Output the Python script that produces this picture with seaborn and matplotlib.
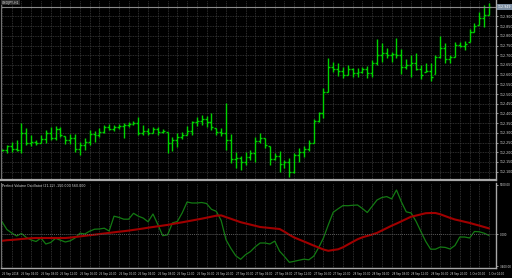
import numpy as np
import pandas as pd
import matplotlib
matplotlib.use("Agg")
import matplotlib.pyplot as plt
import matplotlib.transforms as mtransforms
import seaborn as sns

# ---------------- data ----------------
symbol_title = "USDJPY,H1"
indicator_title = "Perfect Volume Oscillator (21,22) -150.000 560.000"

bar_high = [112.216, 112.237, 112.253, 112.263, 112.351, 112.325, 112.289, 112.263, 112.289, 112.314,
            112.330, 112.335, 112.330, 112.283, 112.294, 112.294, 112.253, 112.273, 112.314, 112.309,
            112.325, 112.340, 112.345, 112.340, 112.345, 112.351, 112.356, 112.361, 112.381, 112.340,
            112.325, 112.330, 112.330, 112.320, 112.304, 112.278, 112.299, 112.304, 112.335, 112.361,
            112.381, 112.392, 112.387, 112.402, 112.325, 112.325, 112.454, 112.294, 112.201, 112.180,
            112.201, 112.211, 112.278, 112.299, 112.273, 112.232, 112.196, 112.206, 112.160, 112.170,
            112.196, 112.222, 112.232, 112.263, 112.371, 112.407, 112.531, 112.686, 112.665, 112.660,
            112.639, 112.649, 112.634, 112.634, 112.639, 112.644, 112.675, 112.784, 112.763, 112.737,
            112.717, 112.789, 112.732, 112.680, 112.701, 112.711, 112.649, 112.660, 112.660, 112.701,
            112.799, 112.763, 112.701, 112.768, 112.768, 112.773, 112.835, 112.866, 112.923, 112.959,
            112.969]
bar_low = [112.206, 112.196, 112.201, 112.206, 112.196, 112.237, 112.232, 112.237, 112.247, 112.247,
           112.263, 112.263, 112.278, 112.242, 112.242, 112.201, 112.186, 112.211, 112.237, 112.253,
           112.278, 112.299, 112.314, 112.309, 112.320, 112.273, 112.330, 112.340, 112.289, 112.289,
           112.289, 112.299, 112.289, 112.299, 112.196, 112.206, 112.227, 112.268, 112.289, 112.289,
           112.335, 112.340, 112.330, 112.314, 112.289, 112.283, 112.211, 112.144, 112.119, 112.108,
           112.134, 112.160, 112.149, 112.247, 112.222, 112.134, 112.160, 112.098, 112.119, 112.072,
           112.093, 112.149, 112.175, 112.206, 112.247, 112.356, 112.376, 112.510, 112.613, 112.593,
           112.582, 112.598, 112.588, 112.588, 112.608, 112.582, 112.588, 112.649, 112.665, 112.686,
           112.665, 112.686, 112.603, 112.629, 112.588, 112.624, 112.577, 112.613, 112.567, 112.603,
           112.686, 112.660, 112.660, 112.691, 112.742, 112.727, 112.768, 112.820, 112.856, 112.845,
           112.907]
bar_open = [112.210, 112.212, 112.230, 112.215, 112.210, 112.300, 112.250, 112.255, 112.250, 112.270,
            112.300, 112.275, 112.320, 112.283, 112.265, 112.275, 112.215, 112.240, 112.255, 112.295,
            112.290, 112.305, 112.330, 112.320, 112.330, 112.335, 112.340, 112.345, 112.350, 112.300,
            112.310, 112.300, 112.320, 112.305, 112.304, 112.250, 112.265, 112.280, 112.290, 112.310,
            112.355, 112.360, 112.370, 112.355, 112.325, 112.305, 112.300, 112.265, 112.165, 112.170,
            112.150, 112.175, 112.195, 112.260, 112.273, 112.232, 112.165, 112.180, 112.140, 112.150,
            112.100, 112.185, 112.200, 112.215, 112.250, 112.360, 112.400, 112.510, 112.640, 112.630,
            112.620, 112.600, 112.630, 112.610, 112.615, 112.630, 112.610, 112.660, 112.700, 112.710,
            112.700, 112.705, 112.700, 112.640, 112.650, 112.660, 112.630, 112.615, 112.620, 112.603,
            112.690, 112.740, 112.680, 112.691, 112.755, 112.750, 112.768, 112.820, 112.856, 112.890,
            112.910]
bar_close = [112.212, 112.230, 112.215, 112.210, 112.300, 112.250, 112.255, 112.250, 112.270, 112.300,
             112.275, 112.320, 112.290, 112.265, 112.275, 112.215, 112.240, 112.255, 112.295, 112.290,
             112.305, 112.330, 112.320, 112.330, 112.335, 112.340, 112.345, 112.350, 112.300, 112.310,
             112.300, 112.320, 112.305, 112.310, 112.250, 112.265, 112.280, 112.290, 112.310, 112.355,
             112.360, 112.370, 112.355, 112.330, 112.305, 112.300, 112.265, 112.165, 112.170, 112.150,
             112.175, 112.195, 112.260, 112.275, 112.240, 112.165, 112.180, 112.140, 112.150, 112.100,
             112.185, 112.200, 112.215, 112.250, 112.360, 112.400, 112.510, 112.640, 112.630, 112.620,
             112.600, 112.630, 112.610, 112.615, 112.630, 112.610, 112.660, 112.700, 112.710, 112.700,
             112.705, 112.700, 112.640, 112.650, 112.660, 112.630, 112.600, 112.620, 112.590, 112.690,
             112.740, 112.680, 112.690, 112.755, 112.750, 112.760, 112.820, 112.850, 112.890, 112.910,
             112.949]

oscillator = [1230, 450, 100, -200, 50, -350, -600, -750, -400, -1000,
              -850, -430, -620, -800, -680, -400, 80, 0, 280, 480,
              500, 580, 300, 1780, 1660, 1480, 1480, 2070, 1780, 1590,
              1220, 2000, 940, -170, -80, 1110, 1250, 2110, 3200, 3100,
              3100, 3150, 3050, 2470, 2270, 1350, -580, -1440, -2180, -2530,
              -2070, -1760, -1280, -900, -900, -1000, -710, -1720, -2250, -2830,
              -2730, -2620, -2520, -2580, -2220, -1380, -400, 920, 2170, 2520,
              2840, 2830, 2870, 2900, 2550, 2150, 2770, 3400, 3650, 3740,
              3510, 4400, 3220, 2220, 2100, 1280, 260, -740, -1520, -1520,
              -1300, -1340, -1500, -1150, -300, -300, -400, 250, 220, 80,
              -150]
signal = [-680, -620, -590, -550, -500, -460, -420, -400, -400, -400,
          -400, -400, -400, -400, -360, -300, -240, -180, -120, -70,
          -10, 50, 110, 170, 230, 280, 340, 410, 480, 550,
          630, 700, 770, 840, 910, 1000, 1090, 1170, 1260, 1350,
          1440, 1530, 1630, 1730, 1830, 1860, 1690, 1520, 1350, 1180,
          1060, 940, 820, 700, 650, 600, 550, 500, 230, -80,
          -350, -550, -750, -950, -1160, -1350, -1550, -1680, -1600, -1530,
          -1330, -1060, -790, -530, -330, -190, -50, 110, 350, 590,
          830, 1040, 1270, 1500, 1730, 1840, 1960, 2080, 2100, 2100,
          1970, 1790, 1610, 1450, 1340, 1220, 1110, 970, 840, 700,
          560]

time_labels = ["25 Sep 2018", "25 Sep 04:00", "25 Sep 08:00", "25 Sep 12:00", "25 Sep 16:00",
               "25 Sep 20:00", "26 Sep 00:00", "26 Sep 04:00", "26 Sep 08:00", "26 Sep 12:00",
               "26 Sep 16:00", "26 Sep 20:00", "27 Sep 00:00", "27 Sep 04:00", "27 Sep 08:00",
               "27 Sep 12:00", "27 Sep 16:00", "27 Sep 20:00", "28 Sep 00:00", "28 Sep 04:00",
               "28 Sep 08:00", "28 Sep 12:00", "28 Sep 16:00", "28 Sep 20:00", "1 Oct 00:00",
               "1 Oct 04:00"]
price_ticks = [112.10, 112.15, 112.20, 112.25, 112.30, 112.35, 112.40, 112.45,
               112.50, 112.55, 112.60, 112.65, 112.70, 112.75, 112.80, 112.85, 112.90]
indicator_ticks = [4900, 0, -3200]
indicator_tick_labels = ["5100.00", "0.000", "-3400.00"]

# ---------------- style ----------------
sns.set_theme(style="dark", rc={"axes.facecolor": "black", "figure.facecolor": "black"})
plt.rcParams["font.family"] = ["DejaVu Sans"]

BAR_C = "#00d400"
GRID_C = "#3c3c3c"
SPINE_C = "#a8a8a8"
TXT_C = "#d8d8d8"
FS = 2.3
FS_I = 2.0
FS_X = 1.9

W, H = 512, 278
fig = plt.figure(figsize=(W / 100, H / 100), dpi=100, facecolor="black")
ax1 = fig.add_axes([1 / W, 1 - 180 / H, 495 / W, 180 / H])
ax2 = fig.add_axes([1 / W, 10 / H, 495 / W, 85 / H], sharex=ax1)

df = pd.DataFrame({"i": np.arange(len(bar_high)), "high": bar_high, "low": bar_low,
                   "open": bar_open, "close": bar_close,
                   "osc": oscillator, "sig": signal})

for ax in (ax1, ax2):
    ax.set_facecolor("black")
    for s in ax.spines.values():
        s.set_visible(False)
    ax.spines["right"].set_visible(True)
    ax.spines["right"].set_color(SPINE_C)
    ax.spines["right"].set_linewidth(1.0)
    ax.spines["left"].set_visible(True)
    ax.spines["left"].set_color("#707070")
    ax.spines["left"].set_linewidth(0.8)
    ax.set_xticks(np.arange(0, len(df), 2))
    ax.grid(True, axis="x", color=GRID_C, linestyle=(0, (1, 1)), linewidth=0.6)
    ax.set_xlabel("")
    ax.set_ylabel("")

ax1.spines["bottom"].set_visible(True)
ax1.spines["bottom"].set_color(SPINE_C)
ax1.spines["bottom"].set_linewidth(1.6)
ax2.spines["bottom"].set_visible(True)
ax2.spines["bottom"].set_color(SPINE_C)
ax2.spines["bottom"].set_linewidth(1.0)

# ---------------- main price panel ----------------
ax1.vlines(df["i"], df["low"], df["high"], color=BAR_C, linewidth=1.0)
ax1.hlines(df["open"], df["i"] - 0.4, df["i"], color=BAR_C, linewidth=1.0)
ax1.hlines(df["close"], df["i"], df["i"] + 0.4, color=BAR_C, linewidth=1.0)

ax1.set_xlim(-0.205, 101.43)
ax1.set_ylim(112.057, 112.985)
ax1.set_yticks(price_ticks)
ax1.yaxis.tick_right()
ax1.set_yticklabels([f"{p:.3f}" for p in price_ticks])
ax1.grid(True, axis="y", color=GRID_C, linestyle=(0, (1, 1)), linewidth=0.6)
ax1.tick_params(axis="y", colors=TXT_C, labelsize=FS, length=1.5, width=0.5, pad=1.0)
ax1.tick_params(axis="x", length=0, labelbottom=False)

last = bar_close[-1]
ax1.axhline(last, color="#8a8a8a", linewidth=0.8)
trans = mtransforms.blended_transform_factory(ax1.transAxes, ax1.transData)
ax1.text(1.003, last, f"{last:.3f}", transform=trans, fontsize=FS, color="white",
         va="center", ha="left",
         bbox=dict(boxstyle="square,pad=0.3", facecolor="#7a8ca0", edgecolor="none"))
ax1.text(0.002, 0.997, symbol_title, transform=ax1.transAxes, fontsize=FS, color=TXT_C,
         va="top", ha="left",
         bbox=dict(boxstyle="square,pad=0.25", facecolor="#2a2a2a", edgecolor="none"))

# ---------------- indicator panel ----------------
sns.lineplot(data=df, x="i", y="osc", ax=ax2, color="#137a13", linewidth=0.9)
sns.lineplot(data=df, x="i", y="sig", ax=ax2, color="#a00000", linewidth=1.5)
ax2.axhline(0, color="#5a5a5a", linestyle=(0, (1, 1)), linewidth=0.7)
ax2.set_ylim(-3400, 5100)
ax2.set_yticks(indicator_ticks)
ax2.set_yticklabels(indicator_tick_labels)
ax2.yaxis.tick_right()
ax2.tick_params(axis="y", colors=TXT_C, labelsize=FS_I, length=1.5, width=0.5, pad=1.0)
ax2.set_xlabel("")
ax2.set_ylabel("")
ax2.text(0.002, 0.985, indicator_title, transform=ax2.transAxes, fontsize=FS, color=TXT_C,
         va="top", ha="left")

tick_lbls = []
for k in range(len(ax2.get_xticks())):
    tick_lbls.append(time_labels[k // 2] if k % 2 == 0 and k // 2 < len(time_labels) else "")
ax2.set_xticklabels(tick_lbls)
ax2.tick_params(axis="x", colors=TXT_C, labelsize=FS_X, length=2, width=0.5, pad=1.0,
                direction="out")
for lab in ax2.get_xticklabels():
    lab.set_ha("left")

fig.savefig("out.png", dpi=100, facecolor="black")
